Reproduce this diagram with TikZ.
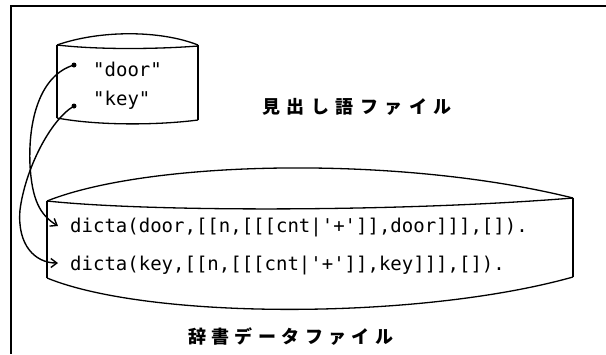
\documentclass[tikz,border=0pt]{standalone}
\usepackage{fontspec}
\setmonofont{DejaVu Sans Mono}
\newfontfamily\jpfont{Noto Sans CJK JP}
\usetikzlibrary{arrows.meta}
\begin{document}
\begin{tikzpicture}[x=1pt,y=-1pt,
  frame/.style={line width=1.8pt},
  cyl/.style={line width=1.3pt},
  link/.style={line width=1.4pt,-{Straight Barb[length=6pt,width=9pt,line width=1.4pt]}},
  code/.style={font=\ttfamily\fontsize{19}{22}\selectfont,inner sep=0pt,anchor=base west},
  jp/.style={font=\jpfont\bfseries\fontsize{18}{22}\selectfont,inner sep=0pt,anchor=west},
  dot/.style={circle,fill=black,inner sep=0pt,minimum size=5pt}]
\useasboundingbox (0,0) rectangle (606,354);
% outer frame
\draw[frame] (606,6) -- (11,6) -- (11,354);
% small cylinder
\draw[cyl] (57,45) .. controls (100,30) and (160,30) .. (198,45);
\draw[cyl] (57,45) .. controls (100,50) and (160,49) .. (198,46);
\draw[cyl] (57,45) -- (57,118);
\draw[cyl] (198,45) -- (198,120);
\draw[cyl] (57,118) .. controls (100,126) and (160,125) .. (198,120);
% big cylinder
\draw[cyl] (47,201) .. controls (150,160) and (400,155) .. (573,198);
\draw[cyl] (47,201) .. controls (150,212) and (400,212) .. (573,198);
\draw[cyl] (47,201) -- (47,278);
\draw[cyl] (573,198) -- (573,277);
\draw[cyl] (47,278) .. controls (150,320) and (420,320) .. (573,277);
% texts
\node[code] (wdoor) at (93,76) {"door"};
\node[code] (wkey) at (93,105) {"key"};
\node[code] (l1) at (70,232) {dicta(door,[[n,[[[cnt|'+']],door]]],[]).};
\node[code] (l2) at (70,270) {dicta(key,[[n,[[[cnt|'+']],key]]],[]).};
\node[jp] (t1) at (262,107) {\addfontfeature{LetterSpace=36}見出し語ファイル};
\node[jp] (t2) at (188,337) {\addfontfeature{LetterSpace=30}辞書データファイル};
% dots and links
\node[dot] (d1) at (74,65) {};
\node[dot] (d2) at (74,106) {};
\coordinate (a1) at (58,226);
\coordinate (a2) at (58,263);
\draw[link] (d1.center) .. controls (40,75) and (28,120) .. (30,165) .. controls (32,200) and (40,215) .. (a1);
\draw[link] (d2.center) .. controls (50,120) and (25,170) .. (20,210) .. controls (17,245) and (35,263) .. (a2);
\end{tikzpicture}
\end{document}
